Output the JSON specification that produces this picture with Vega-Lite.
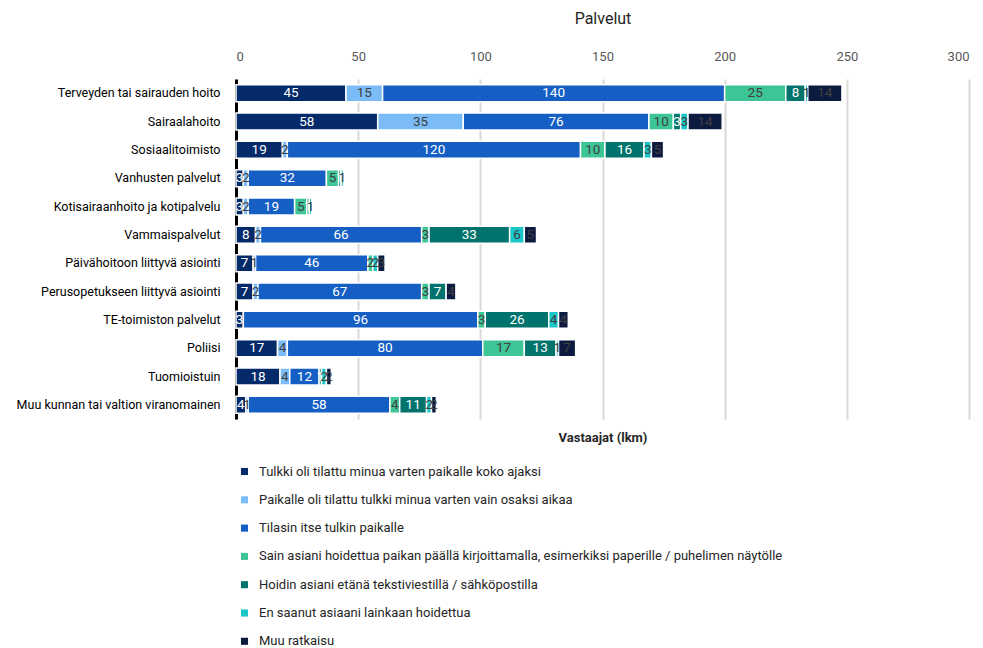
{
  "$schema": "https://vega.github.io/schema/vega-lite/v6.json",
  "autosize": {"type": "none"},
  "width": 733,
  "height": 340,
  "padding": {"left": 236, "top": 79, "right": 14, "bottom": 229},
  "background": "white",
  "config": {
    "font": "Roboto",
    "view": {"stroke": null}
  },
  "datasets": {
    "d": [
      {"p": "Terveyden tai sairauden hoito", "k": 1, "s": "Tulkki oli tilattu minua varten paikalle koko ajaksi", "v": 45},
      {"p": "Terveyden tai sairauden hoito", "k": 2, "s": "Paikalle oli tilattu tulkki minua varten vain osaksi aikaa", "v": 15},
      {"p": "Terveyden tai sairauden hoito", "k": 3, "s": "Tilasin itse tulkin paikalle", "v": 140},
      {"p": "Terveyden tai sairauden hoito", "k": 4, "s": "Sain asiani hoidettua paikan päällä kirjoittamalla, esimerkiksi paperille / puhelimen näytölle", "v": 25},
      {"p": "Terveyden tai sairauden hoito", "k": 5, "s": "Hoidin asiani etänä tekstiviestillä / sähköpostilla", "v": 8},
      {"p": "Terveyden tai sairauden hoito", "k": 6, "s": "En saanut asiaani lainkaan hoidettua", "v": 1},
      {"p": "Terveyden tai sairauden hoito", "k": 7, "s": "Muu ratkaisu", "v": 14},

      {"p": "Sairaalahoito", "k": 1, "s": "Tulkki oli tilattu minua varten paikalle koko ajaksi", "v": 58},
      {"p": "Sairaalahoito", "k": 2, "s": "Paikalle oli tilattu tulkki minua varten vain osaksi aikaa", "v": 35},
      {"p": "Sairaalahoito", "k": 3, "s": "Tilasin itse tulkin paikalle", "v": 76},
      {"p": "Sairaalahoito", "k": 4, "s": "Sain asiani hoidettua paikan päällä kirjoittamalla, esimerkiksi paperille / puhelimen näytölle", "v": 10},
      {"p": "Sairaalahoito", "k": 5, "s": "Hoidin asiani etänä tekstiviestillä / sähköpostilla", "v": 3},
      {"p": "Sairaalahoito", "k": 6, "s": "En saanut asiaani lainkaan hoidettua", "v": 3},
      {"p": "Sairaalahoito", "k": 7, "s": "Muu ratkaisu", "v": 14},

      {"p": "Sosiaalitoimisto", "k": 1, "s": "Tulkki oli tilattu minua varten paikalle koko ajaksi", "v": 19},
      {"p": "Sosiaalitoimisto", "k": 2, "s": "Paikalle oli tilattu tulkki minua varten vain osaksi aikaa", "v": 2},
      {"p": "Sosiaalitoimisto", "k": 3, "s": "Tilasin itse tulkin paikalle", "v": 120},
      {"p": "Sosiaalitoimisto", "k": 4, "s": "Sain asiani hoidettua paikan päällä kirjoittamalla, esimerkiksi paperille / puhelimen näytölle", "v": 10},
      {"p": "Sosiaalitoimisto", "k": 5, "s": "Hoidin asiani etänä tekstiviestillä / sähköpostilla", "v": 16},
      {"p": "Sosiaalitoimisto", "k": 6, "s": "En saanut asiaani lainkaan hoidettua", "v": 3},
      {"p": "Sosiaalitoimisto", "k": 7, "s": "Muu ratkaisu", "v": 5},

      {"p": "Vanhusten palvelut", "k": 1, "s": "Tulkki oli tilattu minua varten paikalle koko ajaksi", "v": 3},
      {"p": "Vanhusten palvelut", "k": 2, "s": "Paikalle oli tilattu tulkki minua varten vain osaksi aikaa", "v": 2},
      {"p": "Vanhusten palvelut", "k": 3, "s": "Tilasin itse tulkin paikalle", "v": 32},
      {"p": "Vanhusten palvelut", "k": 4, "s": "Sain asiani hoidettua paikan päällä kirjoittamalla, esimerkiksi paperille / puhelimen näytölle", "v": 5},
      {"p": "Vanhusten palvelut", "k": 5, "s": "Hoidin asiani etänä tekstiviestillä / sähköpostilla", "v": 1},
      {"p": "Vanhusten palvelut", "k": 6, "s": "En saanut asiaani lainkaan hoidettua", "v": 1},

      {"p": "Kotisairaanhoito ja kotipalvelu", "k": 1, "s": "Tulkki oli tilattu minua varten paikalle koko ajaksi", "v": 3},
      {"p": "Kotisairaanhoito ja kotipalvelu", "k": 2, "s": "Paikalle oli tilattu tulkki minua varten vain osaksi aikaa", "v": 2},
      {"p": "Kotisairaanhoito ja kotipalvelu", "k": 3, "s": "Tilasin itse tulkin paikalle", "v": 19},
      {"p": "Kotisairaanhoito ja kotipalvelu", "k": 4, "s": "Sain asiani hoidettua paikan päällä kirjoittamalla, esimerkiksi paperille / puhelimen näytölle", "v": 5},
      {"p": "Kotisairaanhoito ja kotipalvelu", "k": 5, "s": "Hoidin asiani etänä tekstiviestillä / sähköpostilla", "v": 1},
      {"p": "Kotisairaanhoito ja kotipalvelu", "k": 6, "s": "En saanut asiaani lainkaan hoidettua", "v": 1},

      {"p": "Vammaispalvelut", "k": 1, "s": "Tulkki oli tilattu minua varten paikalle koko ajaksi", "v": 8},
      {"p": "Vammaispalvelut", "k": 2, "s": "Paikalle oli tilattu tulkki minua varten vain osaksi aikaa", "v": 2},
      {"p": "Vammaispalvelut", "k": 3, "s": "Tilasin itse tulkin paikalle", "v": 66},
      {"p": "Vammaispalvelut", "k": 4, "s": "Sain asiani hoidettua paikan päällä kirjoittamalla, esimerkiksi paperille / puhelimen näytölle", "v": 3},
      {"p": "Vammaispalvelut", "k": 5, "s": "Hoidin asiani etänä tekstiviestillä / sähköpostilla", "v": 33},
      {"p": "Vammaispalvelut", "k": 6, "s": "En saanut asiaani lainkaan hoidettua", "v": 6},
      {"p": "Vammaispalvelut", "k": 7, "s": "Muu ratkaisu", "v": 5},

      {"p": "Päivähoitoon liittyvä asiointi", "k": 1, "s": "Tulkki oli tilattu minua varten paikalle koko ajaksi", "v": 7},
      {"p": "Päivähoitoon liittyvä asiointi", "k": 2, "s": "Paikalle oli tilattu tulkki minua varten vain osaksi aikaa", "v": 1},
      {"p": "Päivähoitoon liittyvä asiointi", "k": 3, "s": "Tilasin itse tulkin paikalle", "v": 46},
      {"p": "Päivähoitoon liittyvä asiointi", "k": 4, "s": "Sain asiani hoidettua paikan päällä kirjoittamalla, esimerkiksi paperille / puhelimen näytölle", "v": 2},
      {"p": "Päivähoitoon liittyvä asiointi", "k": 6, "s": "En saanut asiaani lainkaan hoidettua", "v": 2},
      {"p": "Päivähoitoon liittyvä asiointi", "k": 7, "s": "Muu ratkaisu", "v": 3},

      {"p": "Perusopetukseen liittyvä asiointi", "k": 1, "s": "Tulkki oli tilattu minua varten paikalle koko ajaksi", "v": 7},
      {"p": "Perusopetukseen liittyvä asiointi", "k": 2, "s": "Paikalle oli tilattu tulkki minua varten vain osaksi aikaa", "v": 2},
      {"p": "Perusopetukseen liittyvä asiointi", "k": 3, "s": "Tilasin itse tulkin paikalle", "v": 67},
      {"p": "Perusopetukseen liittyvä asiointi", "k": 4, "s": "Sain asiani hoidettua paikan päällä kirjoittamalla, esimerkiksi paperille / puhelimen näytölle", "v": 3},
      {"p": "Perusopetukseen liittyvä asiointi", "k": 5, "s": "Hoidin asiani etänä tekstiviestillä / sähköpostilla", "v": 7},
      {"p": "Perusopetukseen liittyvä asiointi", "k": 7, "s": "Muu ratkaisu", "v": 4},

      {"p": "TE-toimiston palvelut", "k": 1, "s": "Tulkki oli tilattu minua varten paikalle koko ajaksi", "v": 3},
      {"p": "TE-toimiston palvelut", "k": 3, "s": "Tilasin itse tulkin paikalle", "v": 96},
      {"p": "TE-toimiston palvelut", "k": 4, "s": "Sain asiani hoidettua paikan päällä kirjoittamalla, esimerkiksi paperille / puhelimen näytölle", "v": 3},
      {"p": "TE-toimiston palvelut", "k": 5, "s": "Hoidin asiani etänä tekstiviestillä / sähköpostilla", "v": 26},
      {"p": "TE-toimiston palvelut", "k": 6, "s": "En saanut asiaani lainkaan hoidettua", "v": 4},
      {"p": "TE-toimiston palvelut", "k": 7, "s": "Muu ratkaisu", "v": 4},

      {"p": "Poliisi", "k": 1, "s": "Tulkki oli tilattu minua varten paikalle koko ajaksi", "v": 17},
      {"p": "Poliisi", "k": 2, "s": "Paikalle oli tilattu tulkki minua varten vain osaksi aikaa", "v": 4},
      {"p": "Poliisi", "k": 3, "s": "Tilasin itse tulkin paikalle", "v": 80},
      {"p": "Poliisi", "k": 4, "s": "Sain asiani hoidettua paikan päällä kirjoittamalla, esimerkiksi paperille / puhelimen näytölle", "v": 17},
      {"p": "Poliisi", "k": 5, "s": "Hoidin asiani etänä tekstiviestillä / sähköpostilla", "v": 13},
      {"p": "Poliisi", "k": 6, "s": "En saanut asiaani lainkaan hoidettua", "v": 1},
      {"p": "Poliisi", "k": 7, "s": "Muu ratkaisu", "v": 7},

      {"p": "Tuomioistuin", "k": 1, "s": "Tulkki oli tilattu minua varten paikalle koko ajaksi", "v": 18},
      {"p": "Tuomioistuin", "k": 2, "s": "Paikalle oli tilattu tulkki minua varten vain osaksi aikaa", "v": 4},
      {"p": "Tuomioistuin", "k": 3, "s": "Tilasin itse tulkin paikalle", "v": 12},
      {"p": "Tuomioistuin", "k": 5, "s": "Hoidin asiani etänä tekstiviestillä / sähköpostilla", "v": 1},
      {"p": "Tuomioistuin", "k": 6, "s": "En saanut asiaani lainkaan hoidettua", "v": 2},
      {"p": "Tuomioistuin", "k": 7, "s": "Muu ratkaisu", "v": 2},

      {"p": "Muu kunnan tai valtion viranomainen", "k": 1, "s": "Tulkki oli tilattu minua varten paikalle koko ajaksi", "v": 4},
      {"p": "Muu kunnan tai valtion viranomainen", "k": 2, "s": "Paikalle oli tilattu tulkki minua varten vain osaksi aikaa", "v": 1},
      {"p": "Muu kunnan tai valtion viranomainen", "k": 3, "s": "Tilasin itse tulkin paikalle", "v": 58},
      {"p": "Muu kunnan tai valtion viranomainen", "k": 4, "s": "Sain asiani hoidettua paikan päällä kirjoittamalla, esimerkiksi paperille / puhelimen näytölle", "v": 4},
      {"p": "Muu kunnan tai valtion viranomainen", "k": 5, "s": "Hoidin asiani etänä tekstiviestillä / sähköpostilla", "v": 11},
      {"p": "Muu kunnan tai valtion viranomainen", "k": 6, "s": "En saanut asiaani lainkaan hoidettua", "v": 2},
      {"p": "Muu kunnan tai valtion viranomainen", "k": 7, "s": "Muu ratkaisu", "v": 2}
    ]
  },
  "data": {"name": "d"},
  "encoding": {
    "y": {
      "field": "p",
      "type": "nominal",
      "sort": ["Terveyden tai sairauden hoito", "Sairaalahoito", "Sosiaalitoimisto", "Vanhusten palvelut", "Kotisairaanhoito ja kotipalvelu", "Vammaispalvelut", "Päivähoitoon liittyvä asiointi", "Perusopetukseen liittyvä asiointi", "TE-toimiston palvelut", "Poliisi", "Tuomioistuin", "Muu kunnan tai valtion viranomainen"],
      "scale": {"paddingInner": 0.4, "paddingOuter": 0.2},
      "axis": {
        "title": null,
        "ticks": false,
        "domain": true,
        "domainColor": "#000000",
        "domainWidth": 3,
        "labelFontSize": 12.5,
        "labelColor": "#000000",
        "labelPadding": 16,
        "labelLimit": 300
      }
    },
    "order": {"field": "k", "type": "quantitative"}
  },
  "layer": [
    {
      "mark": {"type": "bar", "stroke": "white", "strokeWidth": 1.5},
      "encoding": {
        "x": {
          "field": "v",
          "type": "quantitative",
          "stack": "zero",
          "scale": {"domain": [0, 300], "nice": false},
          "axis": {
            "orient": "top",
            "title": "Palvelut",
            "titleFontSize": 16,
            "titleFontWeight": "normal",
            "titleColor": "#262626",
            "titlePadding": 24,
            "values": [0, 50, 100, 150, 200, 250, 300],
            "ticks": false,
            "domain": false,
            "labelFontSize": 13,
            "labelColor": "#595959",
            "labelPadding": 16,
            "grid": true,
            "gridColor": "#d9d9d9",
            "gridWidth": 2
          }
        },
        "color": {
          "field": "s",
          "type": "nominal",
          "sort": null,
          "scale": {
            "domain": ["Tulkki oli tilattu minua varten paikalle koko ajaksi", "Paikalle oli tilattu tulkki minua varten vain osaksi aikaa", "Tilasin itse tulkin paikalle", "Sain asiani hoidettua paikan päällä kirjoittamalla, esimerkiksi paperille / puhelimen näytölle", "Hoidin asiani etänä tekstiviestillä / sähköpostilla", "En saanut asiaani lainkaan hoidettua", "Muu ratkaisu"],
            "range": ["#052a69", "#7bbcf8", "#155fc4", "#3ec596", "#00736c", "#19c6c8", "#0c1a40"]
          },
          "legend": {
            "title": null,
            "orient": "none",
            "direction": "vertical",
            "legendX": 2,
            "legendY": 386,
            "symbolType": "square",
            "symbolSize": 50,
            "symbolStrokeWidth": 0,
            "labelFontSize": 13,
            "labelColor": "#262626",
            "labelLimit": 700,
            "rowPadding": 14.3,
            "labelOffset": 8
          }
        }
      }
    },
    {
      "mark": {"type": "text", "fontSize": 13.5},
      "encoding": {
        "x": {
          "field": "v",
          "type": "quantitative",
          "stack": "zero",
          "bandPosition": 0.5,
          "axis": {
            "orient": "bottom",
            "title": "Vastaajat (lkm)",
            "titleFontSize": 13,
            "titleFontWeight": "bold",
            "titleColor": "#262626",
            "titlePadding": 12,
            "labels": false,
            "ticks": false,
            "domain": false,
            "grid": false
          }
        },
        "text": {"field": "v", "type": "quantitative"},
        "color": {
          "field": "s",
          "type": "nominal",
          "sort": null,
          "scale": {
            "domain": ["Tulkki oli tilattu minua varten paikalle koko ajaksi", "Paikalle oli tilattu tulkki minua varten vain osaksi aikaa", "Tilasin itse tulkin paikalle", "Sain asiani hoidettua paikan päällä kirjoittamalla, esimerkiksi paperille / puhelimen näytölle", "Hoidin asiani etänä tekstiviestillä / sähköpostilla", "En saanut asiaani lainkaan hoidettua", "Muu ratkaisu"],
            "range": ["#ffffff", "#404040", "#ffffff", "#404040", "#ffffff", "#404040", "#404040"]
          },
          "legend": null
        }
      }
    }
  ],
  "resolve": {"scale": {"color": "independent"}, "axis": {"x": "independent"}}
}
